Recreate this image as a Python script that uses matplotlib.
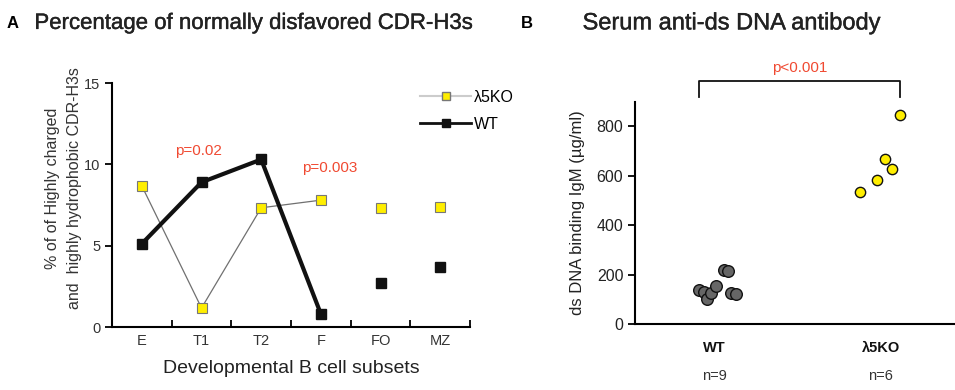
import matplotlib
matplotlib.use("Agg")
import matplotlib.pyplot as plt
import matplotlib.patheffects as pe
from matplotlib.lines import Line2D

plt.rcParams['font.family'] = ['Liberation Sans', 'DejaVu Sans']

# panel A data
subsets = ['E', 'T1', 'T2', 'F', 'FO', 'MZ']
ko_pct = [8.67, 1.17, 7.33, 7.8, 7.3, 7.4]
wt_pct = [5.12, 8.9, 10.3, 0.8, 2.72, 3.67]
n_linked = 4  # E..F are joined by lines, FO and MZ are lone points

# panel B data
wt_igm = [139, 129, 102, 125, 155, 220, 216, 125, 123]
wt_jit = [-0.093, -0.063, -0.043, -0.018, 0.008, 0.057, 0.083, 0.1, 0.13]
ko_igm = [533, 582, 668, 629, 847]
ko_jit = [-0.124, -0.026, 0.023, 0.069, 0.116]
groups = ['WT', 'λ5KO']
group_n = ['n=9', 'n=6']

red = '#f04a32'
yellow = '#ffee00'

fig = plt.figure(figsize=(9.55, 3.9), dpi=100)

# ---- A ----
axA = fig.add_axes([0.1173, 0.1615, 0.3749, 0.6256])
xs = [i + 0.5 for i in range(len(subsets))]
axA.plot(xs[:n_linked], ko_pct[:n_linked], color='#707070', lw=0.9, zorder=2)
axA.plot(xs[:n_linked], wt_pct[:n_linked], color='#111111', lw=3, zorder=3)
axA.plot(xs, ko_pct, ls='none', marker='s', ms=7.5, mfc=yellow, mec='#777777', mew=0.8, zorder=4)
axA.plot(xs, wt_pct, ls='none', marker='s', ms=7.5, mfc='#111111', mec='#111111', zorder=5)

axA.set_xlim(0, 6)
axA.set_ylim(0, 15)
axA.set_yticks([0, 5, 10, 15])
axA.set_xticks(range(1, 7))
axA.set_xticklabels([])
axA.set_xticks(xs, minor=True)
axA.set_xticklabels(subsets, minor=True)
axA.tick_params(axis='x', which='major', direction='in', length=5, width=1.3)
axA.tick_params(axis='x', which='minor', length=0, pad=5, labelsize=10.5, labelcolor='#333333')
axA.tick_params(axis='y', direction='out', length=5, width=1.3, labelsize=10.5, labelcolor='#333333')
for s in ['top', 'right']:
    axA.spines[s].set_visible(False)
for s in ['left', 'bottom']:
    axA.spines[s].set_linewidth(1.5)
axA.set_ylabel('% of of Highly charged\nand  highly hydrophobic CDR-H3s', fontsize=11.5, color='#333333',
               linespacing=1.55, va='center')
axA.yaxis.set_label_coords(-0.135, 0.57)
axA.set_xlabel('Developmental B cell subsets', fontsize=14, color='#222222', labelpad=9)
axA.text(1.45, 10.6, 'p=0.02', color=red, fontsize=11, ha='center')
axA.text(3.65, 9.5, 'p=0.003', color=red, fontsize=11, ha='center')

handles = [Line2D([], [], color='#cccccc', lw=1.5, marker='s', ms=6, mfc=yellow, mec='#777777'),
           Line2D([], [], color='#111111', lw=2, marker='s', ms=6, mfc='#111111', mec='#111111')]
axA.legend(handles, ['λ5KO', 'WT'], loc='upper left', bbox_to_anchor=(0.82, 1.03), frameon=False,
           handlelength=3.2, fontsize=11.5, labelspacing=0.75, handletextpad=0.2)

# ---- B ----
axB = fig.add_axes([0.665, 0.1685, 0.335, 0.5707])
axB.scatter([0 + j for j in wt_jit], wt_igm, s=70, c='#666666', edgecolors='#111111', linewidths=1, zorder=3)
axB.scatter([1 + j for j in ko_jit], ko_igm, s=55, c=yellow, edgecolors='#111111', linewidths=1, zorder=3)
axB.set_xlim(-0.476, 1.445)
axB.set_ylim(0, 900)
axB.set_yticks([0, 200, 400, 600, 800])
axB.set_xticks([])
axB.tick_params(axis='y', direction='out', length=5, width=1.3, labelsize=11.5, labelcolor='#222222')
for s in ['top', 'right']:
    axB.spines[s].set_visible(False)
for s in ['left', 'bottom']:
    axB.spines[s].set_linewidth(1.5)
axB.set_ylabel('ds DNA binding IgM (µg/ml)', fontsize=12, color='#222222', labelpad=8)
for i, (g, n) in enumerate(zip(groups, group_n)):
    axB.text(i, -0.075, g, transform=axB.get_xaxis_transform(), ha='center', va='top',
             fontsize=10.5, fontweight='bold', color='#111111')
    axB.text(i, -0.2, n, transform=axB.get_xaxis_transform(), ha='center', va='top',
             fontsize=10.5, color='#333333')
# significance bracket
bx0, bx1 = wt_jit[0], 1 + ko_jit[-1]
axB.plot([bx0, bx0, bx1, bx1], [1.02, 1.095, 1.095, 1.02], transform=axB.get_xaxis_transform(),
         color='#111111', lw=1.3, clip_on=False)
axB.text((bx0 + bx1) / 2, 1.12, 'p<0.001', transform=axB.get_xaxis_transform(), ha='center',
         va='bottom', color=red, fontsize=11)

# panel titles
heavy = [pe.withStroke(linewidth=0.3, foreground='#222222')]
fig.text(0.007, 0.94, 'A', fontsize=12, fontweight='bold', va='center')
fig.text(0.036, 0.94, 'Percentage of normally disfavored CDR-H3s', fontsize=16, va='center',
         color='#222222', path_effects=heavy)
fig.text(0.545, 0.94, 'B', fontsize=12, fontweight='bold', va='center')
fig.text(0.61, 0.94, 'Serum anti-ds DNA antibody', fontsize=17, va='center', color='#222222',
         path_effects=heavy)

fig.savefig('out.png', dpi=100)
